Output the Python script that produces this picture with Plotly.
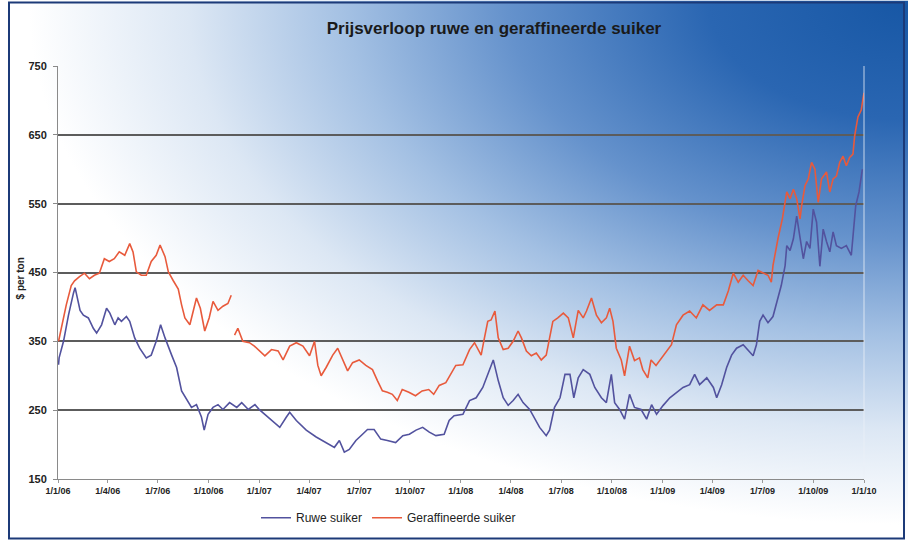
import base64
import plotly.graph_objects as go

# ---------------- data ----------------
ruwe_dates = [
    "2006-01-02","2006-01-03","2006-01-11","2006-01-20","2006-01-29","2006-02-01","2006-02-10","2006-02-16",
    "2006-02-25","2006-03-06","2006-03-12","2006-03-21","2006-03-30","2006-04-05","2006-04-14","2006-04-20",
    "2006-04-26","2006-05-05","2006-05-11","2006-05-20","2006-05-29","2006-06-10","2006-06-19","2006-06-28",
    "2006-07-06","2006-07-14","2006-07-26","2006-08-04","2006-08-13","2006-08-22","2006-08-31","2006-09-09",
    "2006-09-18","2006-09-23","2006-09-30","2006-10-09","2006-10-18","2006-10-27","2006-11-08","2006-11-21",
    "2006-11-30","2006-12-12","2006-12-24","2007-01-02","2007-01-20","2007-02-07","2007-02-19","2007-02-25",
    "2007-03-09","2007-03-27","2007-04-14","2007-05-02","2007-05-17","2007-05-26","2007-06-04","2007-06-13",
    "2007-06-25","2007-07-07","2007-07-16","2007-07-28","2007-08-09","2007-08-21","2007-09-05","2007-09-18",
    "2007-09-30","2007-10-12","2007-10-24","2007-11-05","2007-11-17","2007-12-02","2007-12-11","2007-12-20",
    "2008-01-05","2008-01-17","2008-01-29","2008-02-10","2008-02-19","2008-02-29","2008-03-09","2008-03-18",
    "2008-03-27","2008-04-05","2008-04-14","2008-04-23","2008-05-05","2008-05-14","2008-05-23","2008-06-04",
    "2008-06-10","2008-06-19","2008-06-29","2008-07-08","2008-07-17","2008-07-24","2008-08-01","2008-08-10",
    "2008-08-22","2008-08-31","2008-09-12","2008-09-21","2008-09-30","2008-10-06","2008-10-15","2008-10-24",
    "2008-11-02","2008-11-11","2008-11-23","2008-12-03","2008-12-12","2008-12-21","2009-01-02","2009-01-14",
    "2009-01-26","2009-02-07","2009-02-19","2009-02-28","2009-03-09","2009-03-22","2009-04-03","2009-04-09",
    "2009-04-18","2009-04-27","2009-05-06","2009-05-15","2009-05-27","2009-06-05","2009-06-14","2009-06-20",
    "2009-06-26","2009-07-02","2009-07-11","2009-07-20","2009-07-29","2009-08-04","2009-08-11","2009-08-14",
    "2009-08-20","2009-08-26","2009-09-01","2009-09-07","2009-09-13","2009-09-19","2009-09-25","2009-10-01",
    "2009-10-07","2009-10-13","2009-10-19","2009-10-25","2009-10-31","2009-11-06","2009-11-12","2009-11-21",
    "2009-11-30","2009-12-09","2009-12-13","2009-12-17","2009-12-23","2009-12-29",
]
ruwe_values = [
    316, 326, 350, 388, 420, 428, 395, 388,
    384, 369, 362, 374, 398, 391, 374, 384,
    379, 386, 379, 355, 340, 326, 330, 350,
    374, 355, 330, 312, 278, 266, 254, 258,
    240, 221, 244, 254, 258, 251, 261, 254,
    261, 251, 258, 250, 237, 225, 240, 247,
    235, 221, 211, 203, 196, 206, 189, 193,
    206, 215, 222, 222, 208, 206, 203, 213,
    215, 221, 225, 218, 213, 215, 235, 242,
    244, 264, 268, 283, 302, 323, 293, 268,
    257, 264, 273, 261, 251, 237, 225, 213,
    221, 254, 268, 302, 302, 268, 297, 309,
    302, 283, 268, 261, 302, 261, 251, 237,
    273, 254, 251, 237, 258, 244, 257, 268,
    276, 283, 287, 302, 287, 297, 283, 268,
    287, 312, 330, 340, 345, 337, 329, 345,
    379, 388, 377, 386, 412, 431, 460, 489,
    482, 499, 532, 503, 470, 495, 485, 542,
    523, 459, 513, 495, 480, 509, 489, 485,
    489, 475, 513, 547, 567, 600,
]

raff_dates = [
    "2006-01-02","2006-01-07","2006-01-16","2006-01-25","2006-01-31","2006-02-09","2006-02-18","2006-02-27",
    "2006-03-08","2006-03-17","2006-03-26","2006-04-04","2006-04-13","2006-04-22","2006-05-02","2006-05-11",
    "2006-05-17","2006-05-23","2006-06-01","2006-06-10","2006-06-19","2006-06-28","2006-07-05","2006-07-14",
    "2006-07-20","2006-07-29","2006-08-07","2006-08-13","2006-08-19","2006-08-28","2006-09-03","2006-09-09",
    "2006-09-16","2006-09-24","2006-10-02","2006-10-09","2006-10-18","2006-10-27","2006-11-05","2006-11-11",
    "2006-11-14","2006-11-17","2006-11-23","2006-12-02","2006-12-14","2006-12-23","2007-01-11","2007-01-23",
    "2007-02-04","2007-02-13","2007-02-25","2007-03-09","2007-03-21","2007-04-02","2007-04-11","2007-04-17",
    "2007-04-23","2007-05-02","2007-05-14","2007-05-23","2007-06-01","2007-06-10","2007-06-19","2007-07-01",
    "2007-07-13","2007-07-25","2007-08-03","2007-08-12","2007-08-21","2007-08-30","2007-09-08","2007-09-17",
    "2007-09-29","2007-10-11","2007-10-23","2007-11-04","2007-11-13","2007-11-23","2007-12-05","2007-12-14",
    "2007-12-23","2008-01-05","2008-01-17","2008-01-26","2008-02-01","2008-02-07","2008-02-13","2008-02-19",
    "2008-02-25","2008-03-03","2008-03-09","2008-03-18","2008-03-27","2008-04-05","2008-04-14","2008-04-20",
    "2008-04-29","2008-05-08","2008-05-17","2008-05-26","2008-06-04","2008-06-10","2008-06-16","2008-06-25",
    "2008-07-05","2008-07-14","2008-07-23","2008-08-01","2008-08-10","2008-08-16","2008-08-25","2008-09-03",
    "2008-09-12","2008-09-21","2008-09-27","2008-10-03","2008-10-09","2008-10-18","2008-10-24","2008-11-02",
    "2008-11-11","2008-11-20","2008-11-26","2008-12-05","2008-12-11","2008-12-20","2009-01-08","2009-01-17",
    "2009-01-26","2009-02-07","2009-02-19","2009-03-03","2009-03-15","2009-03-27","2009-04-09","2009-04-21",
    "2009-04-30","2009-05-09","2009-05-18","2009-05-27","2009-06-05","2009-06-14","2009-06-23","2009-07-02",
    "2009-07-11","2009-07-17","2009-07-20","2009-07-29","2009-08-06","2009-08-14","2009-08-20","2009-08-26",
    "2009-09-01","2009-09-07","2009-09-10","2009-09-16","2009-09-22","2009-09-28","2009-10-04","2009-10-10",
    "2009-10-16","2009-10-25","2009-10-31","2009-11-06","2009-11-12","2009-11-18","2009-11-24","2009-11-30",
    "2009-12-06","2009-12-12","2009-12-15","2009-12-21","2009-12-27","2010-01-01",
]
raff_values = [
    350, 369, 403, 431, 438, 444, 449, 441,
    446, 449, 470, 466, 470, 480, 475, 492,
    480, 451, 446, 446, 466, 475, 490, 473,
    451, 438, 426, 403, 384, 374, 394, 413,
    398, 365, 384, 408, 395, 401, 405, 417,
    None, 359, 369, 350, 348, 343, 329, 338,
    336, 323, 343, 348, 343, 329, 350, 315,
    300, 312, 330, 340, 323, 307, 319, 323,
    315, 309, 293, 278, 276, 273, 264, 280,
    276, 271, 278, 280, 273, 286, 290, 302,
    315, 316, 338, 348, 338, 330, 355, 379,
    381, 394, 355, 338, 340, 350, 365, 355,
    336, 329, 333, 323, 330, 355, 379, 384,
    391, 384, 355, 395, 384, 394, 413, 388,
    377, 384, 398, 379, 340, 323, 300, 343,
    322, 326, 309, 297, 323, 315, 336, 345,
    374, 388, 394, 384, 403, 395, 403, 403,
    423, 449, 436, 446, 438, 431, 453, 449,
    446, 436, 460, 499, 528, 567, 557, 571,
    557, 528, 547, 576, 586, 610, 600, 552,
    586, 596, 567, 586, 590, 610, 619, 605,
    617, 622, 648, 676, 686, 711,
]

tick_dates = ["2006-01-01","2006-04-01","2006-07-01","2006-10-01","2007-01-01","2007-04-01","2007-07-01",
              "2007-10-01","2008-01-01","2008-04-01","2008-07-01","2008-10-01","2009-01-01","2009-04-01",
              "2009-07-01","2009-10-01","2010-01-01"]
tick_labels = ["1/1/06","1/4/06","1/7/06","1/10/06","1/1/07","1/4/07","1/7/07","1/10/07","1/1/08",
               "1/4/08","1/7/08","1/10/08","1/1/09","1/4/09","1/7/09","1/10/09","1/1/10"]
y_ticks = [150, 250, 350, 450, 550, 650, 750]

# ---------------- layout geometry ----------------
W, H = 908, 544
L, R, T, B = 58, 44, 66, 62
PW, PH = W - L - R, H - T - B

def px(x):
    return (x - L) / PW

def py(y):
    return (H - B - y) / PH

svg = (
    "<svg xmlns='http://www.w3.org/2000/svg' width='908' height='544' viewBox='0 0 908 544' preserveAspectRatio='none'>"
    "<defs><radialGradient id='g' cx='0' cy='0' r='1' gradientUnits='userSpaceOnUse' "
    "gradientTransform='translate(908,0) scale(1000,600)'>"
    "<stop offset='0' stop-color='#1757a5'/>"
    "<stop offset='0.2' stop-color='#2a66b2'/>"
    "<stop offset='0.4' stop-color='#6592cc'/>"
    "<stop offset='0.56' stop-color='#a3c0e3'/>"
    "<stop offset='0.72' stop-color='#dce7f4'/>"
    "<stop offset='0.88' stop-color='#ffffff'/>"
    "</radialGradient></defs>"
    "<rect width='908' height='544' fill='url(#g)'/></svg>"
)
bg_src = "data:image/svg+xml;base64," + base64.b64encode(svg.encode()).decode()

fig = go.Figure()
fig.add_trace(go.Scatter(x=ruwe_dates, y=ruwe_values, mode="lines", name="Ruwe suiker",
                         line=dict(color="#52529e", width=1.6)))
fig.add_trace(go.Scatter(x=raff_dates, y=raff_values, mode="lines", name="Geraffineerde suiker",
                         line=dict(color="#e85a3c", width=1.6), connectgaps=False))

fig.update_layout(
    width=W, height=H,
    margin=dict(l=L, r=R, t=T, b=B),
    paper_bgcolor="white",
    plot_bgcolor="rgba(0,0,0,0)",
    font=dict(family="Liberation Sans, Arial, sans-serif", color="#222222"),
    title=dict(text="<b>Prijsverloop ruwe en geraffineerde suiker</b>", x=494 / W, xanchor="center",
               xref="container", y=1 - 28 / H, yref="container", yanchor="middle",
               font=dict(size=17, color="#1a1a1a")),
    showlegend=True,
    legend=dict(orientation="h", x=px(256), y=py(521), xanchor="left", yanchor="middle",
                bgcolor="rgba(0,0,0,0)", font=dict(size=12, color="#222222"),
                itemwidth=30, tracegroupgap=0),
    xaxis=dict(type="date", range=["2006-01-01", "2010-01-01"], tickmode="array",
               tickvals=tick_dates, ticktext=["<b>%s</b>" % t for t in tick_labels], showgrid=False,
               showline=True, linecolor="#8a8a8a", linewidth=1,
               ticks="outside", ticklen=3, tickcolor="#9a9a9a",
               tickfont=dict(size=9, color="#222222"),
               zeroline=False),
    yaxis=dict(range=[150, 750], tickmode="array", tickvals=y_ticks,
               ticktext=["<b>%d</b>" % v for v in y_ticks],
               showgrid=True, gridcolor="#5c5c5c", gridwidth=1.5,
               showline=True, linecolor="#8a8a8a", linewidth=1,
               ticks="outside", ticklen=4, tickcolor="#8a8a8a", ticklabelstandoff=4,
               tickfont=dict(size=11, color="#222222"), zeroline=False),
    images=[dict(source=bg_src, xref="paper", yref="paper", x=px(0), y=py(0),
                 sizex=W / PW, sizey=H / PH, xanchor="left", yanchor="top",
                 sizing="stretch", layer="below")],
    shapes=[
        dict(type="rect", xref="paper", yref="paper", x0=px(9), x1=px(904), y0=py(542), y1=py(2),
             line=dict(color="#1c3a78", width=2), fillcolor="rgba(0,0,0,0)"),
        dict(type="line", xref="paper", yref="paper", x0=1, x1=1, y0=0, y1=1,
             line=dict(color="rgba(235,240,248,0.8)", width=1)),
    ],
    annotations=[dict(text="<b>$ per ton</b>", xref="paper", yref="paper", x=px(20), y=py(280),
                      textangle=-90, showarrow=False, font=dict(size=10, color="#222222"),
                      xanchor="center", yanchor="middle")],
)

fig.write_html("out.html", config={"displayModeBar": False},
               post_script="document.body.style.margin='0';document.body.style.padding='0';")
